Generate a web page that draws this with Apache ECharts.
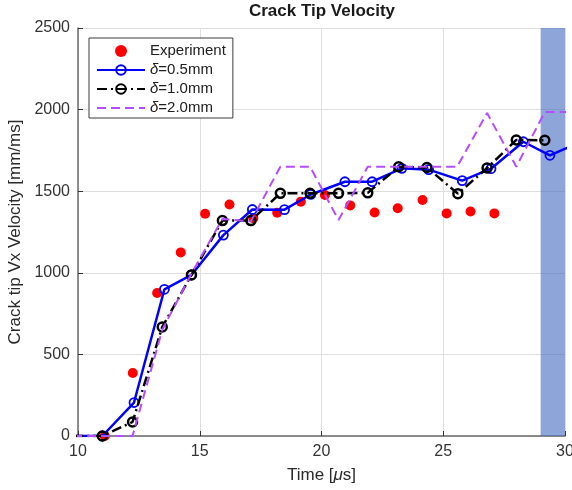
<!DOCTYPE html>
<html>
<head>
<meta charset="utf-8">
<script src="https://cdn.jsdelivr.net/npm/echarts@6/dist/echarts.min.js"></script>
<style>
html, body { margin: 0; padding: 0; background: #fff; overflow: hidden; }
#chart { width: 572px; height: 490px; }
</style>
</head>
<body>
<div id="chart"></div>
<script>
// Measured crack tip velocity
const expTime = [11.1, 12.25, 13.25, 14.22, 15.22, 16.22, 17.2, 18.18, 19.15, 20.14, 21.18, 22.18, 23.13, 24.15, 25.14, 26.12, 27.1];
const expVel  = [0, 386, 876, 1125, 1362, 1418, 1334, 1368, 1436, 1477, 1413, 1370, 1395, 1446, 1364, 1376, 1364];

// Simulation, delta = 0.5 mm
const t05 = [9.8, 11.0, 12.3, 13.55, 14.66, 15.97, 17.16, 18.48, 19.56, 20.96, 22.08, 23.3, 24.4, 25.78, 26.96, 28.29, 29.38, 30.6];
const v05 = [0, 0, 205, 899, 987, 1231, 1388, 1387, 1480, 1558, 1558, 1640, 1632, 1565, 1638, 1803, 1720, 1800];

// Simulation, delta = 1.0 mm
const t10 = [9.8, 11.0, 12.24, 13.46, 14.66, 15.93, 17.1, 18.31, 19.53, 20.7, 21.9, 23.17, 24.33, 25.6, 26.8, 28.0, 29.17];
const v10 = [0, 0, 86, 668, 987, 1320, 1320, 1487, 1487, 1487, 1490, 1650, 1645, 1485, 1642, 1814, 1812];

// Simulation, delta = 2.0 mm
const t20 = [9.8, 11.0, 12.24, 13.46, 14.66, 15.93, 17.1, 18.31, 19.53, 20.7, 21.9, 23.17, 24.33, 25.57, 26.8, 28.0, 29.17, 30.4];
const v20 = [0, 0, 0, 650, 995, 1330, 1315, 1650, 1650, 1323, 1650, 1650, 1650, 1650, 1979, 1650, 1985, 1985];

// Highlighted time window
const bandStart = 29;
const bandEnd = 30;

// Axis ranges and ticks
const xMin = 10, xMax = 30, xStep = 5;
const yMin = 0, yMax = 2500, yStep = 500;

const seriesNames = ['Experiment', 'δ=0.5mm', 'δ=1.0mm', 'δ=2.0mm'];

const zip = (a, b) => a.map((v, i) => [v, b[i]]);
const FONT = "'Liberation Sans', Arial, Helvetica, sans-serif";

const chart = echarts.init(document.getElementById('chart'), null, { renderer: 'canvas', width: 572, height: 490 });

chart.setOption({
  animation: false,
  backgroundColor: '#fff',
  textStyle: { fontFamily: FONT },
  graphic: [{
    type: 'text',
    x: 322, y: 11,
    style: {
      text: 'Crack Tip Velocity',
      align: 'center', verticalAlign: 'middle',
      font: 'bold 17px ' + FONT,
      fill: '#1a1a1a'
    },
    z: 100
  }],
  grid: { left: 78, right: 7, top: 28, bottom: 54, containLabel: false, outerBoundsMode: 'none' },
  legend: {
    data: [
      { name: seriesNames[0] },
      { name: seriesNames[1] },
      { name: seriesNames[2] },
      { name: seriesNames[3], itemStyle: { color: 'rgba(0,0,0,0)', borderWidth: 0 } }
    ],
    orient: 'vertical',
    left: 89, top: 38,
    itemWidth: 48, itemHeight: 12, itemGap: 3,
    padding: [5, 7, 2, 7],
    backgroundColor: '#fff',
    borderColor: '#3a3a3a', borderWidth: 1, borderRadius: 0,
    selectedMode: false,
    formatter: n => n.charAt(0) === 'δ' ? '{i|δ}{n|' + n.slice(1) + '}' : '{n|' + n + '}',
    textStyle: {
      fontSize: 15, lineHeight: 16, color: '#202020',
      rich: {
        n: { fontSize: 15, lineHeight: 16, color: '#202020', fontFamily: FONT },
        i: { fontSize: 15, lineHeight: 16, color: '#202020', fontStyle: 'italic', fontFamily: FONT }
      }
    },
    z: 50
  },
  xAxis: {
    type: 'value', min: xMin, max: xMax, interval: xStep,
    name: '{n|Time [}{i|μ}{n|s]}',
    nameLocation: 'middle', nameGap: 31,
    nameTextStyle: {
      rich: {
        n: { fontSize: 17, color: '#2a2a2a', fontFamily: FONT },
        i: { fontSize: 17, color: '#2a2a2a', fontStyle: 'italic', fontFamily: FONT }
      }
    },
    axisLine: { onZero: false, lineStyle: { color: '#6a6a6a', width: 1.5 } },
    axisTick: { inside: true, length: 5, lineStyle: { color: '#333' } },
    axisLabel: { fontSize: 16, color: '#333', margin: 8, formatter: v => String(v) },
    splitLine: { show: true, lineStyle: { color: '#dedede', width: 1 } }
  },
  yAxis: {
    type: 'value', min: yMin, max: yMax, interval: yStep,
    name: 'Crack tip Vx Velocity [mm/ms]',
    nameLocation: 'middle', nameGap: 48,
    nameTextStyle: { fontSize: 17, color: '#2a2a2a' },
    axisLine: { show: true, onZero: false, lineStyle: { color: '#6a6a6a', width: 1.5 } },
    axisTick: { show: true, inside: true, length: 5, lineStyle: { color: '#333' } },
    axisLabel: { fontSize: 16, color: '#333', margin: 8, formatter: v => String(v) },
    splitLine: { show: true, lineStyle: { color: '#dedede', width: 1 } }
  },
  series: [
    {
      name: seriesNames[0], type: 'scatter',
      data: zip(expTime, expVel),
      symbol: 'circle', symbolSize: 10,
      itemStyle: { color: '#ff0000', opacity: 1 },
      z: 2
    },
    {
      name: seriesNames[1], type: 'line',
      data: zip(t05, v05),
      symbol: 'circle', symbolSize: 9, showAllSymbol: true,
      lineStyle: { color: '#0000ff', width: 2.5 },
      itemStyle: { color: 'rgba(0,0,0,0)', borderColor: '#0000ff', borderWidth: 1.8 },
      z: 3
    },
    {
      name: seriesNames[2], type: 'line',
      data: zip(t10, v10),
      symbol: 'circle', symbolSize: 9, showAllSymbol: true,
      lineStyle: { color: '#000', width: 2.5, type: [10, 4, 2, 4] },
      itemStyle: { color: 'rgba(0,0,0,0)', borderColor: '#000', borderWidth: 2.5 },
      z: 4
    },
    {
      name: seriesNames[3], type: 'line',
      data: zip(t20, v20),
      symbol: 'none',
      lineStyle: { color: '#b34dff', width: 2, type: [9, 5] },
      itemStyle: { color: '#b34dff' },
      z: 5
    },
    {
      name: 'window', type: 'line', data: [], silent: true, z: 20,
      markArea: {
        silent: true,
        itemStyle: { color: 'rgba(65,105,190,0.6)' },
        data: [[{ xAxis: bandStart, yAxis: yMin }, { xAxis: bandEnd, yAxis: yMax }]]
      }
    }
  ]
});
</script>
</body>
</html>
